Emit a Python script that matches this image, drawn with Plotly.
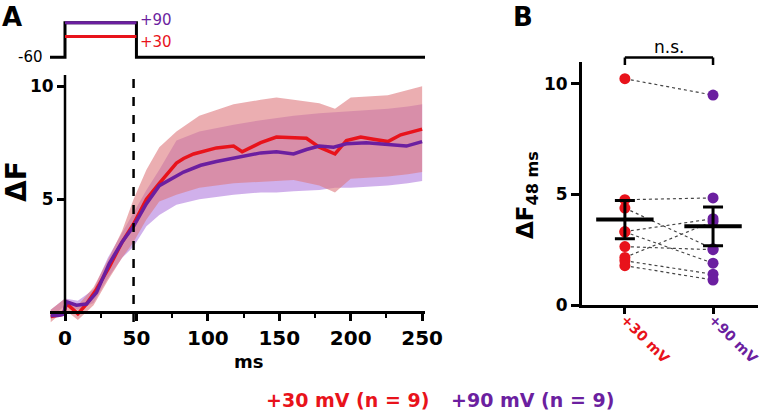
import plotly.graph_objects as go

W, H = 762, 413
RED = '#e8131b'
PURPLE = '#6b1fa0'
FONT = 'DejaVu Sans'

# ---------------- Panel A data (time course, ms) ----------------
t_red = [-10, -5, -1, 1, 4, 9, 15, 22, 31, 40, 48, 57, 66, 78, 83, 90, 106, 118, 124,
         137, 148, 160, 169, 178, 189, 197, 207, 216, 226, 235, 250]
red_mean = [-0.2, -0.15, -0.1, 0.38, 0.2, -0.08, 0.35, 1.0, 2.0, 3.1, 3.9, 5.0, 5.7, 6.6, 6.8,
            7.0, 7.27, 7.35, 7.1, 7.5, 7.75, 7.7, 7.7, 7.3, 7.0, 7.6, 7.75, 7.65, 7.55, 7.85, 8.1]

t_purple = [-10, -5, -1, 1, 8, 15, 22, 31, 40, 48, 57, 60, 66, 83, 95, 106, 122, 137, 148,
            160, 169, 178, 188, 197, 211, 226, 239, 250]
purple_mean = [-0.15, -0.15, -0.1, 0.45, 0.3, 0.35, 0.86, 2.15, 3.1, 3.8, 4.8, 5.05, 5.6, 6.2,
               6.5, 6.67, 6.85, 7.05, 7.1, 7.0, 7.2, 7.35, 7.3, 7.45, 7.5, 7.4, 7.35, 7.55]

t_band = [-10, 0, 9, 20, 30, 40, 48, 57, 66, 78, 94, 118, 137, 148, 160, 178, 189, 200,
          226, 240, 250]
red_upper = [0.1, 0.6, 0.3, 1.1, 2.3, 3.6, 5.0, 6.3, 7.3, 8.0, 8.7, 9.2, 9.4, 9.5, 9.4,
             9.25, 9.0, 9.5, 9.6, 9.85, 10.0]
red_lower = [-0.45, 0.1, -0.35, 0.3, 1.4, 2.4, 3.1, 4.1, 4.9, 5.2, 5.5, 5.7, 5.75, 5.8,
             5.85, 5.6, 5.3, 5.9, 6.0, 6.1, 6.2]
purple_upper = [0.1, 0.6, 0.5, 1.0, 2.4, 3.5, 4.4, 5.4, 6.3, 7.6, 8.0, 8.3, 8.5, 8.6, 8.7,
                8.8, 8.85, 8.9, 9.0, 9.1, 9.2]
purple_lower = [-0.3, 0.3, 0.1, 0.4, 1.5, 2.4, 2.9, 3.8, 4.3, 4.75, 5.0, 5.2, 5.3, 5.3,
                5.35, 5.4, 5.5, 5.5, 5.6, 5.7, 5.8]

# voltage protocol (mV)
protocol_t = [-10.5, 0, 50, 256]
protocol_v = [-60, 90, -60, -60]
step_t = [0, 50]
step_30 = [30, 30]
step_90 = [90, 90]
marker_ms = 48

x_ticks_a = [0, 50, 100, 150, 200, 250]
x_minor_a = [25, 75, 125, 175, 225]
y_ticks_a = [5, 10]

# ---------------- Panel B data ----------------
groups = ['+30 mV', '+90 mV']
b_red = [10.23, 4.76, 4.38, 3.32, 3.30, 2.64, 2.15, 2.0, 1.78]
b_purple = [9.49, 4.84, 2.54, 3.9, 1.89, 2.5, 3.78, 1.39, 1.13]
b_mean = [3.86, 3.555]
b_sem = [0.87, 0.875]
y_ticks_b = [0, 5, 10]


def py(p):
    return 1 - p / H


fig = go.Figure()

# bands
fig.add_trace(go.Scatter(x=t_band + t_band[::-1], y=purple_upper + purple_lower[::-1],
                         fill='toself', fillcolor='rgba(150,80,210,0.45)', line=dict(width=0),
                         hoverinfo='skip', showlegend=False, xaxis='x', yaxis='y'))
fig.add_trace(go.Scatter(x=t_band + t_band[::-1], y=red_upper + red_lower[::-1],
                         fill='toself', fillcolor='rgba(222,120,125,0.6)', line=dict(width=0),
                         hoverinfo='skip', showlegend=False, xaxis='x', yaxis='y'))
# means
fig.add_trace(go.Scatter(x=t_red, y=red_mean, mode='lines', line=dict(color=RED, width=3.5),
                         showlegend=False, xaxis='x', yaxis='y'))
fig.add_trace(go.Scatter(x=t_purple, y=purple_mean, mode='lines', line=dict(color=PURPLE, width=3.5),
                         showlegend=False, xaxis='x', yaxis='y'))

# protocol
fig.add_trace(go.Scatter(x=protocol_t, y=protocol_v, mode='lines', line=dict(color='black', width=3, shape='hv'),
                         showlegend=False, xaxis='x', yaxis='y3'))
fig.add_trace(go.Scatter(x=step_t, y=step_90, mode='lines', line=dict(color=PURPLE, width=3),
                         showlegend=False, xaxis='x', yaxis='y3'))
fig.add_trace(go.Scatter(x=step_t, y=step_30, mode='lines', line=dict(color=RED, width=3),
                         showlegend=False, xaxis='x', yaxis='y3'))

# Panel B paired lines
px_, py_ = [], []
for a, b in zip(b_red, b_purple):
    px_ += [0, 1, None]
    py_ += [a, b, None]
fig.add_trace(go.Scatter(x=px_, y=py_, mode='lines', line=dict(color='#444', width=1.2, dash='dot'),
                         showlegend=False, xaxis='x2', yaxis='y2'))
fig.add_trace(go.Scatter(x=[0] * len(b_red), y=b_red, mode='markers',
                         marker=dict(color=RED, size=11), showlegend=False, xaxis='x2', yaxis='y2'))
fig.add_trace(go.Scatter(x=[1] * len(b_purple), y=b_purple, mode='markers',
                         marker=dict(color=PURPLE, size=11), showlegend=False, xaxis='x2', yaxis='y2'))
fig.add_trace(go.Scatter(x=[0, 1], y=b_mean, mode='markers',
                         marker=dict(symbol='line-ew-open', size=41, color='black', line=dict(width=4, color='black')),
                         error_y=dict(type='data', array=b_sem, color='black', thickness=3, width=10),
                         showlegend=False, xaxis='x2', yaxis='y2'))

bold = dict(family=FONT, color='black', weight='bold')

fig.update_layout(
    template='none',
    width=W, height=H, margin=dict(l=0, r=0, t=0, b=0, pad=0, autoexpand=False),
    paper_bgcolor='white', plot_bgcolor='rgba(0,0,0,0)', showlegend=False,
    xaxis=dict(domain=[50 / W, 425 / W], range=[-10.5, 252], anchor='free', position=py(312),
               automargin=False,
               showline=True, linecolor='black', linewidth=2.5, ticks='outside', ticklen=7,
               tickwidth=2.5, tickcolor='black', tickvals=x_ticks_a, tickfont=dict(size=20, **bold),
               minor=dict(tickvals=x_minor_a, ticks='outside', ticklen=4, tickwidth=2, tickcolor='black'),
               showgrid=False, zeroline=False),
    yaxis=dict(domain=[py(323.3), py(75)], range=[-0.5, 10.5], anchor='free', position=65 / W,
               automargin=False,
               showline=False, ticks='outside', ticklen=8, tickwidth=2.5, tickcolor='black',
               tickvals=y_ticks_a, tickfont=dict(size=17, **bold), showgrid=False, zeroline=False),
    yaxis3=dict(domain=[py(62), py(18)], range=[-80.4, 110.4], anchor='x', visible=False,
                automargin=False, showgrid=False, zeroline=False),
    xaxis2=dict(domain=[581.7 / W, 758 / W], range=[-0.49, 1.51], anchor='y2', automargin=False,
                showline=True, linecolor='black', linewidth=2.5, ticks='outside', ticklen=6,
                tickwidth=2.5, tickcolor='black', tickvals=[0, 1],
                ticktext=[f'<span style="color:{RED}">{groups[0]}</span>',
                          f'<span style="color:{PURPLE}">{groups[1]}</span>'],
                tickangle=45, ticklabelstandoff=-8, ticklabeloverflow='allow',
                tickfont=dict(size=14, **bold), showgrid=False, zeroline=False),
    yaxis2=dict(domain=[py(305), py(61.7)], range=[0, 11], anchor='x2', automargin=False,
                showline=True, linecolor='black', linewidth=2.5, ticks='outside', ticklen=8,
                tickwidth=2.5, tickcolor='black', tickvals=y_ticks_b,
                tickfont=dict(size=17, **bold), showgrid=False, zeroline=False),
)

shapes = [
    dict(type='line', xref='x', yref='y', x0=0, x1=0, y0=0, y1=10.5, line=dict(color='black', width=2.5)),
    dict(type='line', xref='x', yref='y', x0=marker_ms, x1=marker_ms, y0=-0.44, y1=10.5,
         line=dict(color='black', width=2.5, dash='dash')),
    dict(type='line', xref='x2', yref='paper', x0=0, x1=1, y0=py(57.5), y1=py(57.5), line=dict(color='black', width=2.5)),
    dict(type='line', xref='x2', yref='paper', x0=0, x1=0, y0=py(57.5), y1=py(65), line=dict(color='black', width=2.5)),
    dict(type='line', xref='x2', yref='paper', x0=1, x1=1, y0=py(57.5), y1=py(65), line=dict(color='black', width=2.5)),
]
fig.update_layout(shapes=shapes)


def ann(text, x, y, size, color='black', weight='normal', xanchor='center', angle=0, xref='paper',
        yanchor='middle'):
    return dict(text=text, x=x, y=y, xref=xref, yref='paper', xanchor=xanchor, yanchor=yanchor,
                showarrow=False, textangle=angle,
                font=dict(family=FONT, size=size, color=color, weight=weight))


annotations = [
    ann('A', 12 / W, 1.0, 26, weight='bold', yanchor='top'),
    ann('B', 522.5 / W, 1.0, 26, weight='bold', yanchor='top'),
    ann('-60', 30.5 / W, py(57), 15),
    ann('+90', 138 / W, py(20.5), 15, color=PURPLE, xanchor='left'),
    ann('+30', 138 / W, py(41.7), 15, color=RED, xanchor='left'),
    ann('ms', 248 / W, py(361.7), 18, weight='bold'),
    ann('ΔF', 17 / W, py(182), 28, weight='bold', angle=-90),
    ann('ΔF<sub>48 ms</sub>', 527 / W, py(195), 23, weight='bold', angle=-90),
    ann('n.s.', 0.5, py(47), 17, xref='x2'),
    ann('+30 mV (n = 9)', 347.5 / W, py(400), 19, color=RED, weight='bold'),
    ann('+90 mV (n = 9)', 532 / W, py(400), 19, color=PURPLE, weight='bold'),
]
fig.update_layout(annotations=annotations)

fig.write_html('out.html', config={'displayModeBar': False},
               post_script="document.body.style.margin='0px';document.body.style.overflow='hidden';")
